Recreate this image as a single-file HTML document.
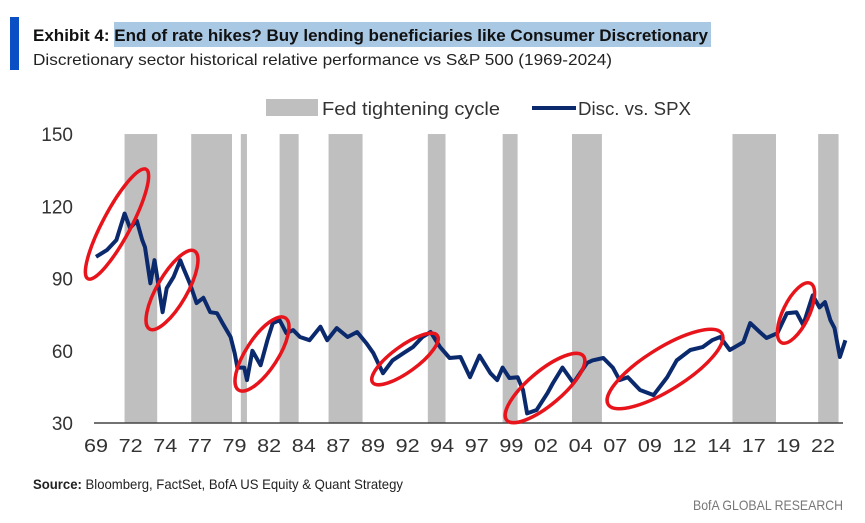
<!DOCTYPE html>
<html><head><meta charset="utf-8"><style>
html,body{margin:0;padding:0;background:#fff;width:865px;height:523px;overflow:hidden}
svg{display:block;font-family:"Liberation Sans",sans-serif}
</style></head><body>
<svg id="chart" width="865" height="523" viewBox="0 0 865 523">
<rect x="10" y="17" width="9" height="53" fill="#0a4fc4"/>
<rect x="114" y="22" width="597" height="25" fill="#a9c8e4"/>
<text x="33" y="41" font-size="17" font-weight="bold" fill="#111" textLength="675" lengthAdjust="spacingAndGlyphs">Exhibit 4: End of rate hikes? Buy lending beneficiaries like Consumer Discretionary</text>
<text x="33" y="65" font-size="16" fill="#222" textLength="579" lengthAdjust="spacingAndGlyphs">Discretionary sector historical relative performance vs S&amp;P 500 (1969-2024)</text>
<g>
<rect x="266" y="99" width="52" height="17" fill="#bfbfbf"/>
<text x="322" y="115" font-size="18" fill="#333" textLength="178" lengthAdjust="spacingAndGlyphs">Fed tightening cycle</text>
<line x1="532" y1="108" x2="576" y2="108" stroke="#0b2a6e" stroke-width="4"/>
<text x="578" y="115" font-size="18" fill="#333" textLength="113" lengthAdjust="spacingAndGlyphs">Disc. vs. SPX</text>
</g>
<g id="bands"></g>
<g id="yticks"></g>
<g id="xticks"></g>
<line x1="94" y1="423" x2="843" y2="423" stroke="#444" stroke-width="1.5"/>
<path id="series" fill="none" stroke="#0b2a6e" stroke-width="4" stroke-linejoin="round"/>
<g fill="none" stroke="#e8141b" stroke-width="3.5">
<ellipse cx="117" cy="224" rx="62" ry="14" transform="rotate(-62 117 224)"/>
<ellipse cx="172" cy="290" rx="45" ry="15" transform="rotate(-60 172 290)"/>
<ellipse cx="262" cy="354" rx="43" ry="16" transform="rotate(-57 262 354)"/>
<ellipse cx="405" cy="359" rx="40" ry="13" transform="rotate(-36 405 359)"/>
<ellipse cx="545" cy="388" rx="50" ry="17" transform="rotate(-40 545 388)"/>
<ellipse cx="665" cy="369" rx="67" ry="21" transform="rotate(-32 665 369)"/>
<ellipse cx="796" cy="313" rx="33" ry="13" transform="rotate(-64 796 313)"/>
</g>
<text x="33" y="489" font-size="14" fill="#222" textLength="370" lengthAdjust="spacingAndGlyphs"><tspan font-weight="bold">Source:</tspan> Bloomberg, FactSet, BofA US Equity &amp; Quant Strategy</text>
<text x="843" y="510" font-size="14" fill="#777" text-anchor="end" textLength="150" lengthAdjust="spacingAndGlyphs">BofA GLOBAL RESEARCH</text>
</svg>
<script>
const yTicks=[30,60,90,120,150];
const xLabels=["69","72","74","77","79","82","84","87","89","92","94","97","99","02","04","07","09","12","14","17","19","22"];
const bandStarts=[1971.1,1976.0,1979.65,1982.5,1986.1,1993.4,1998.9,2004.0,2015.8,2022.1];
const bandEnds=[1973.5,1979.0,1980.1,1983.9,1988.6,1994.7,2000.0,2006.2,2019.0,2023.6];
const years=[1969.0,1969.8,1970.5,1971.1,1971.5,1972.0,1972.4,1972.6,1973.0,1973.3,1973.5,1973.9,1974.2,1974.7,1975.2,1975.4,1975.9,1976.4,1976.9,1977.4,1977.9,1978.3,1978.9,1979.2,1979.4,1979.9,1980.1,1980.5,1981.1,1981.6,1982.0,1982.5,1983.0,1983.5,1984.0,1984.7,1985.5,1986.0,1986.7,1987.5,1988.2,1988.9,1989.4,1990.1,1990.8,1991.6,1992.3,1993.0,1993.6,1994.3,1995.0,1995.8,1996.5,1997.2,1998.0,1998.5,1998.9,1999.4,2000.0,2000.4,2000.7,2001.4,2002.2,2002.6,2003.3,2004.1,2005.1,2005.5,2006.3,2007.0,2007.5,2008.1,2009.0,2010.0,2011.0,2011.7,2012.7,2013.6,2014.3,2014.9,2015.6,2016.6,2017.1,2017.8,2018.3,2019.1,2019.8,2020.5,2021.0,2021.7,2022.2,2022.6,2023.0,2023.3,2023.7,2024.1];
const values=[99,101.8,106,117,111,114,106,103,88,97.6,90.6,76,86,90.6,97.6,94.7,88,79.8,82,76,75.6,71.5,65.7,59,53,53,47.8,60,54,64.4,71.5,72.7,67.3,68.6,65.7,64.4,70,64.4,69.4,65.7,67.8,63,59,50.7,56,59,61.5,65.7,67.8,61.5,57,57.4,49,58,50.7,47.8,53,48.7,49,43.7,34,35.4,42.4,46.6,53,46.6,54.9,56,57,53,47.8,49,43.7,41.6,49,56,60.3,61.5,64.4,65.7,60.3,63.6,71.5,67.8,65.3,67.3,75.6,76,70.7,83,78,80.2,72.7,69.4,57.4,64.4,65.7,65.7];
const NS="http://www.w3.org/2000/svg";
const x=yr=>96+(yr-1969)*13.6;
const y=v=>423-(v-30)*2.408;
const bands=document.getElementById('bands');
for(let i=0;i<bandStarts.length;i++){
  const r=document.createElementNS(NS,'rect');
  r.setAttribute('x',x(bandStarts[i]));r.setAttribute('y',y(150));
  r.setAttribute('width',x(bandEnds[i])-x(bandStarts[i]));r.setAttribute('height',y(30)-y(150));
  r.setAttribute('fill','#bfbfbf');
  
  
  bands.appendChild(r);
}
const yt=document.getElementById('yticks');
yTicks.forEach(v=>{
  const t=document.createElementNS(NS,'text');
  t.setAttribute('x',73);t.setAttribute('y',y(v)+7);t.setAttribute('text-anchor','end');
  t.setAttribute('font-size','19');t.setAttribute('fill','#333');t.textContent=v;
  
  
  yt.appendChild(t);
});
const xt=document.getElementById('xticks');
xLabels.forEach((l,i)=>{
  const t=document.createElementNS(NS,'text');
  t.setAttribute('x',96+i*34.62);t.setAttribute('y',452);t.setAttribute('text-anchor','middle');
  t.setAttribute('font-size','18');t.setAttribute('fill','#333');
  t.setAttribute('textLength','24');t.setAttribute('lengthAdjust','spacingAndGlyphs');t.textContent=l;
  
  
  xt.appendChild(t);
});
let d='';
years.forEach((yr,i)=>{d+=(i?'L':'M')+x(yr).toFixed(1)+' '+y(values[i]).toFixed(1);});
document.getElementById('series').setAttribute('d',d);
</script>
</body></html>
